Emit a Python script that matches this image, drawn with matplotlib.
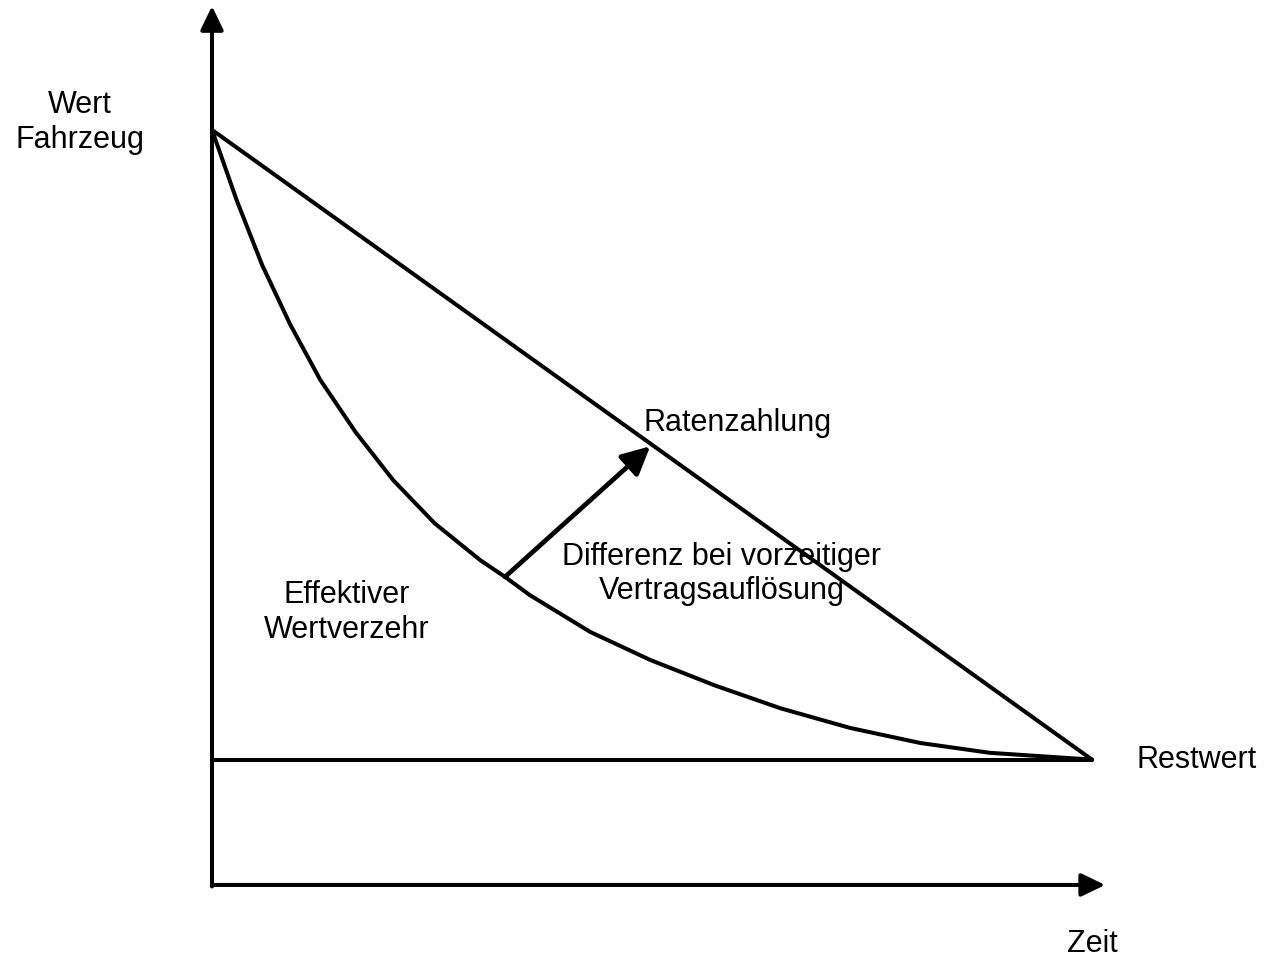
import matplotlib
matplotlib.use("Agg")
import matplotlib.pyplot as plt

plt.rcParams['font.family'] = ['Liberation Sans', 'DejaVu Sans']

# Zeitachse 0..10, Wert 0..100 (Neuwert = 100)
zeit = [0.0, 0.28, 0.57, 0.89, 1.23, 1.63, 2.06, 2.53, 3.05, 3.33, 3.61,
        4.30, 4.98, 5.72, 6.46, 7.25, 8.05, 8.84, 10.0]
wert_effektiv = [100.0, 90.7, 82.1, 74.2, 66.9, 60.0, 53.6, 47.9, 43.0, 40.8, 38.4,
                 33.5, 29.8, 26.4, 23.4, 20.8, 18.8, 17.5, 16.6]
raten_zeit = [0.0, 10.0]
raten_wert = [100.0, 16.6]
restwert = 16.6
pfeil_start = (3.33, 40.8)
pfeil_ende = (4.98, 58.1)

LW = 2.9

fig = plt.figure(figsize=(12.64, 9.57), dpi=100)
ax = fig.add_axes([0, 0, 1, 1])
ax.set_xlim(-2.409, 11.955)
ax.set_ylim(-9.54, 117.2)
ax.axis('off')

# Achsen mit Pfeilspitzen
ax.annotate('', xy=(0, 116.4), xytext=(0, -0.2),
            arrowprops=dict(arrowstyle='-|>,head_length=1.45,head_width=0.7',
                            lw=LW, color='black', shrinkA=0, shrinkB=0))
ax.annotate('', xy=(10.15, 0), xytext=(0, 0),
            arrowprops=dict(arrowstyle='-|>,head_length=1.45,head_width=0.7',
                            lw=LW, color='black', shrinkA=0, shrinkB=0))

# Restwert, Ratenzahlung, effektiver Wertverzehr
ax.plot([0, raten_zeit[-1]], [restwert, restwert], color='black', lw=LW,
        solid_capstyle='round')
ax.plot(raten_zeit, raten_wert, color='black', lw=LW, solid_capstyle='round')
ax.plot(zeit, wert_effektiv, color='black', lw=LW, solid_joinstyle='round',
        solid_capstyle='round')

# Differenz-Pfeil
ax.annotate('', xy=pfeil_ende, xytext=pfeil_start,
            arrowprops=dict(arrowstyle='-|>,head_length=1.7,head_width=0.85',
                            lw=LW + 0.5, color='black', shrinkA=0, shrinkB=0))

fs = 22
ax.text(-1.5, 101.0, 'Wert\nFahrzeug', fontsize=fs, ha='center', va='center')
ax.text(4.9, 61.2, 'Ratenzahlung', fontsize=fs, ha='left', va='center')
ax.text(5.79, 41.2, 'Differenz bei vorzeitiger\nVertragsauflösung', fontsize=fs,
        ha='center', va='center')
ax.text(1.53, 36.1, 'Effektiver\nWertverzehr', fontsize=fs, ha='center',
        va='center')
ax.text(10.51, restwert, 'Restwert', fontsize=fs, ha='left', va='center')
ax.text(10.01, -7.8, 'Zeit', fontsize=fs, ha='center', va='center')

fig.savefig('out.png', dpi=100, facecolor='white')
